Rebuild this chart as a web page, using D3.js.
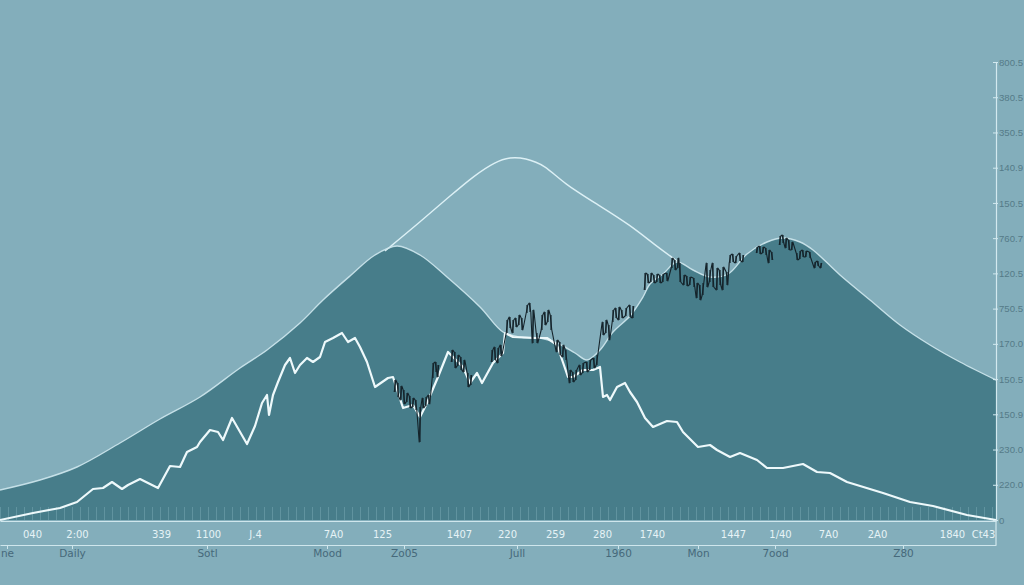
<!DOCTYPE html>
<html>
<head>
<meta charset="utf-8">
<script src="https://cdn.jsdelivr.net/npm/d3@7/dist/d3.min.js"></script>
<style>
  html, body { margin: 0; padding: 0; background: #83aebb; }
  svg { display: block; }
</style>
</head>
<body>
<script>
// ---------- DATA ----------
// Large dark mountain (area) : [x, value]
const mountainX = [0,10,19.25,30,40,50,60,66.75,75,80.75,87.5,93.75,99.25,105,111.75,120,125.75,130,135,139.25,143.75,146.75,150,153.25,157.5,160.75,162.5,165.75,169.25,173.25,177.5,182,186.75,191.75,195.75,200,203.25,210,217.5,225,232.5,240,249];
const mountainV = [15,20,26.5,38.5,50.5,61.5,76,85,98.5,110,122,132.5,137,132.5,121.5,106.5,94,91.5,91,88.5,83.5,80,85,94,102,111.5,118,123,129,125,121.5,123,133,139,141,139,135,122.5,110,97.5,87.5,79,70];

// Upper envelope (thin outline)
const envelopeX = [96.25,105,112.5,118.75,123.75,127.5,131.25,136.25,140.75,150,157.5,163.75,169.25];
const envelopeV = [134.5,149,162,172.5,179,181.5,181,177.5,168.5,157,147.5,137.5,129.5];

// Main white series
const seriesX = [0,8.25,15,19.25,23.25,25.75,28,30.5,32,35,37,39.5,42.5,45,46.75,49.25,50,52.5,54.5,55.75,58,61.75,63.75,65.5,66.75,67.25,68.25,69.5,71.25,72.5,73.75,75,76.75,78.25,80,81.25,83.25,85.5,87,88.75,90,91.75,93.75,97,98.25,100.75,103.25,105,106.75,109.5,112,113.25,115.75,117.5,119.25,120.5,123.25,125.75,126.25,128.25,133.25,136.75,139.25,142,143.25,145.75,148.25,150,150.75,151.75,152.5,154.25,156.25,157.5,159.25,161.25,163.25,166.75,169.25,170.75,174.5,177.5,179.25,182.5,185,189.25,191.75,195.75,200.75,204.25,207.5,211.75,220.75,227.5,233.25,241.75,249];
const seriesV = [0,3.5,6,9,15.5,16,19,15.5,17.5,20.5,18.5,16,27,26.5,34,36.5,39,45,44,40,51,38,47,58.5,62.5,52.5,62.5,69,77.5,81,73.5,77.5,81,79,81.5,89,91,93.5,89,91,86.5,79,66.5,71,71.5,56,57.5,51.5,58.5,71.5,84,81.5,76.5,68.5,73.5,68.5,78.5,83.5,93.5,91.5,91,91,87.5,71.5,71.5,75,75,76.5,61.5,62.5,60,66.5,68.5,64,59,51,46.5,49.5,49,44,36.5,37.5,35,31.5,33.5,30,26,26,28,24,23.5,19,13.5,9,7,2.5,0];

// Noisy dark price wicks: x, low, high
const wickX = [98.75,99.5,100.25,101,101.75,102.5,103.25,104,105,105.75,106.5,107.25,108.25,109,109.5,113,113.75,114.5,115.25,116,117,117.75,123,123.75,124.5,125.25,126.75,127.5,128.25,129,129.75,130.5,131.75,132.5,133.25,134.25,135.5,136.25,137,137.75,139.25,140,140.75,141.5,142.5,143.25,144,145,145.75,146.75,147.5,148.5,149.25,150.75,151.5,152.25,153.25,154,154.75,155.5,156.5,157.5,158.25,161.25,162,162.75,163.5,164.25,165,165.75,166.75,168,168.75,169.5,170,171,171.75,172.5,173.5,174.25,175,175.75,176.75,177.5,178.25,179.25,180,180.75,181.75,182.5,183.25,184,185,185.75,189.25,190,190.75,191.5,192.25,193,195,195.75,196.5,197.25,198,199.25,200,200.75,201.5,202.5,203.75,204.5,205.25];
const wickLow = [64,61.5,60,58,59,56,56.5,55,39,56,57,58,71,74,71.5,79,76,77,75,74,66.5,67.5,79,80,78.5,82,93.5,96,93.5,96.5,97.5,95,103.5,104,88.5,88.5,95,97.5,99,95,84,82.5,81.5,80,68.5,69,70,72.5,73.5,74,75,76,77.5,92.5,93.5,90,99,101,100,101,102,101.5,101,115,118.5,119,118.5,119,118.5,119,119.5,126,125,126,119,117.5,117,117.5,116.5,111,110,112.5,116.5,119,116.5,115,117.5,115,117.5,128.5,129,128.5,129.5,129,133.5,133,133.5,132.5,128.5,130,137.5,138.5,136,135,135,130,130.5,131.5,131.5,131,126,127,126];
const wickHigh = [70,68.5,67,65,63.5,62,61,60,56.5,61,61.5,62.5,78.5,79,77.5,85,84,82.5,81.5,80,73.5,72.5,85,86.5,86,87.5,100,101.5,100,101,102.5,101,107.5,108.5,105,93.5,102.5,104,105,102.5,90,89,87.5,85,75,74,75,77.5,78.5,79,80,81,82.5,99,100,97.5,105,106,106.5,105,106,107.5,107,123.5,123,123.5,122.5,123,122.5,123,123.5,131,130,131,128.5,122.5,122,121.5,121,118.5,117.5,118.5,128.5,125,128.5,126,125,126.5,124,132.5,133,132,133.5,132.5,136.5,137,136.5,136,135,134,142,142.5,141,140,139,133.5,134.5,135,134.5,134,129,129.5,128.5];

// Axis labels
const rightLabels = ["800.5","380.5","350.5","140.9","150.5","760.7","120.5","750.5","170.0","150.5","150.9","230.0","220.0","0"];
const bottomValues = [8,19.25,40.25,52,63.75,83.25,95.5,114.75,126.75,138.75,150.5,163,183.25,195,207,219.25,238,245.75];
const bottomLabels = ["040","2:00","339","1100","J.4","7A0","125","1407","220","259","280","1740","1447","1/40","7A0","2A0","1840","Ct43"];
const catValues = [1.75,18,51.75,81.75,101,129.25,154.5,174.5,193.75,225.75];
const catLabels = ["ne","Daily","Sotl","Mood","Zo05","Jull","1960","Mon","7ood","Z80"];

// ---------- DRAW ----------
const W = 1024, H = 585;
const svg = d3.select("body").append("svg").attr("width", W).attr("height", H);
svg.append("rect").attr("width", W).attr("height", H).attr("fill", "#83aebb");

const x = d3.scaleLinear().domain([0, 249]).range([0, 996]);
const y = d3.scaleLinear().domain([0, 229]).range([520, 62]);

const mountain = mountainX.map((d, i) => [d, mountainV[i]]);
const envelope = envelopeX.map((d, i) => [d, envelopeV[i]]);
const series = seriesX.map((d, i) => [d, seriesV[i]]);
const curveM = d3.curveCatmullRom.alpha(0.5);

// dark area
svg.append("path")
  .datum(mountain)
  .attr("fill", "#477d8a")
  .attr("d", d3.area().x(d => x(d[0])).y0(y(0)).y1(d => y(d[1])).curve(curveM));

// minor ticks along the floor of the dark area
const minor = svg.append("g")
  .attr("transform", `translate(0,${y(0)})`)
  .call(d3.axisBottom(x).ticks(140).tickSize(-13).tickFormat(""));
minor.select(".domain").remove();
minor.selectAll("line").attr("stroke", "#9cc6d1").attr("stroke-opacity", 0.3).attr("stroke-width", 1);

// envelope outline
svg.append("path")
  .datum(envelope)
  .attr("fill", "none")
  .attr("stroke", "#dcf0f5")
  .attr("stroke-width", 1.4)
  .attr("d", d3.line().x(d => x(d[0])).y(d => y(d[1])).curve(d3.curveBasis));

// dark area top edge
svg.append("path")
  .datum(mountain)
  .attr("fill", "none")
  .attr("stroke", "#cfe8ee")
  .attr("stroke-width", 1.4)
  .attr("stroke-opacity", 0.9)
  .attr("d", d3.line().x(d => x(d[0])).y(d => y(d[1])).curve(curveM));

// main white line
svg.append("path")
  .datum(series)
  .attr("fill", "none")
  .attr("stroke", "#eef9fb")
  .attr("stroke-width", 2.2)
  .attr("stroke-linejoin", "round")
  .attr("d", d3.line().x(d => x(d[0])).y(d => y(d[1])));

// noisy black price trace: connected zigzag within clusters + wicks
const wicks = wickX.map((d, i) => [d, wickLow[i], wickHigh[i]]);
const clusters = [];
wicks.forEach((w, i) => {
  if (i === 0 || w[0] - wicks[i - 1][0] > 1.6) clusters.push([]);
  clusters[clusters.length - 1].push(w);
});
const zig = d3.line().x(d => x(d[0])).y(d => y(d[1]));
svg.append("g").selectAll("path")
  .data(clusters)
  .join("path")
  .attr("fill", "none")
  .attr("stroke", "#15232a")
  .attr("stroke-width", 1.1)
  .attr("stroke-linejoin", "round")
  .attr("d", c => zig(c.flatMap((w, i) => i % 2 ? [[w[0] - 0.2, w[2]], [w[0] + 0.2, w[1]]] : [[w[0] - 0.2, w[1]], [w[0] + 0.2, w[2]]])));
svg.append("g").selectAll("line")
  .data(wicks)
  .join("line")
  .attr("x1", d => x(d[0])).attr("x2", d => x(d[0]))
  .attr("y1", d => y(d[1])).attr("y2", d => y(d[2]))
  .attr("stroke", "#15232a")
  .attr("stroke-width", 1.2);

// bottom axis row 1
const b1 = svg.append("g")
  .attr("transform", `translate(0,${y(0) + 1})`)
  .call(d3.axisBottom(x).tickValues(bottomValues).tickFormat((d, i) => bottomLabels[i]).tickSize(0).tickSizeOuter(0).tickPadding(10));
b1.select(".domain").attr("stroke", "#cfe6ec").attr("stroke-width", 1.2);
b1.selectAll("text").attr("fill", "#e6f3f6").attr("font-family", "DejaVu Sans, sans-serif").attr("font-size", 10);

// bottom axis row 2
const b2 = svg.append("g")
  .attr("transform", `translate(0,545)`)
  .call(d3.axisBottom(x).tickValues(catValues).tickFormat((d, i) => catLabels[i]).tickSize(4).tickSizeOuter(0).tickPadding(1));
b2.select(".domain").attr("stroke", "#cfe6ec").attr("stroke-width", 1.2);
b2.selectAll("line").attr("stroke", "#cfe6ec");
b2.selectAll("text").attr("fill", "#46697a").attr("font-family", "DejaVu Sans, sans-serif").attr("font-size", 10.5);

// right axis
const yl = d3.scalePoint().domain(d3.range(rightLabels.length)).range([62, 520]);
const ra = svg.append("g")
  .attr("transform", `translate(996,0)`)
  .call(d3.axisRight(yl).tickFormat(i => rightLabels[i]).tickSize(2).tickSizeOuter(0).tickPadding(1));
ra.select(".domain").attr("stroke", "#d3e9ef").attr("stroke-width", 1.2);
ra.selectAll("line").attr("stroke", "#d3e9ef").attr("x1", -3);
ra.selectAll("text").attr("fill", "#557b88").attr("font-family", "Liberation Sans, Arial, sans-serif").attr("font-size", 9.6);
svg.append("line")
  .attr("x1", 996).attr("x2", 996).attr("y1", 520).attr("y2", 545)
  .attr("stroke", "#d3e9ef").attr("stroke-width", 1.2);
</script>
</body>
</html>
